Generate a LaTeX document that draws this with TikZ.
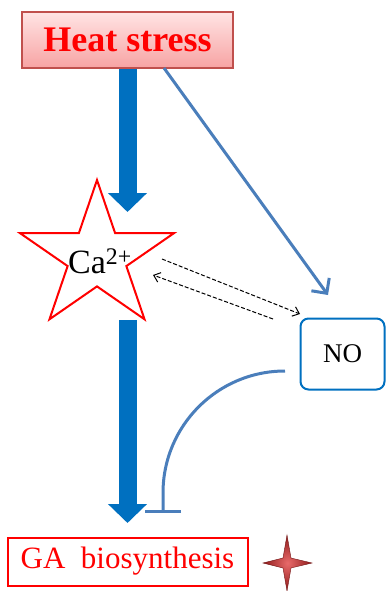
\documentclass[tikz,border=0pt]{standalone}
\usepackage{fontspec}
\setmainfont{Liberation Serif}
\usetikzlibrary{arrows.meta}
\definecolor{thickblue}{HTML}{0070C0}
\definecolor{thinblue}{HTML}{4A7EBB}
\definecolor{boxred}{HTML}{C0504D}
\definecolor{pinktop}{HTML}{FFE4E4}
\definecolor{pinkbot}{HTML}{F7A3A3}
\definecolor{sparkin}{HTML}{E86A6A}
\definecolor{sparkout}{HTML}{8E1A1A}
\begin{document}
\begin{tikzpicture}[x=1pt,y=-1pt,
  heatbox/.style={draw=boxred, line width=1.2pt, top color=pinktop, bottom color=pinkbot,
    minimum width=211pt, minimum height=56pt, inner sep=0pt,
    text=red, font=\fontsize{36}{40}\selectfont\bfseries},
  nobox/.style={draw=thickblue, line width=2pt, rounded corners=8pt, fill=white,
    minimum width=84pt, minimum height=71pt, inner sep=0pt, font=\fontsize{27}{30}\selectfont},
  gabox/.style={draw=red, line width=2pt, minimum width=240pt, minimum height=48pt, inner sep=0pt,
    text=red, font=\fontsize{31}{35}\selectfont},
  fatarrow/.style={thickblue, line width=18pt, -{Triangle[width=38pt,length=19pt]}},
  thinarrow/.style={thinblue, line width=3pt, -{Straight Barb[length=11pt,width=22pt]}},
  dasharrow/.style={black, line width=1pt, dash pattern=on 4pt off 2pt,
    -{Straight Barb[length=6pt,width=10pt]}},
  inhibit/.style={thinblue, line width=3pt, -{Bar[width=36pt]}}
]
\useasboundingbox (0,0) rectangle (388,591);

% nodes
\node[heatbox] (heat) at (127.5,40) {Heat stress};
\node[nobox] (no) at (342.5,354) {NO};
\node[gabox] (ga) at (127.5,561.5) {GA\ \ biosynthesis};

% star around Ca2+
\draw[red, line width=2pt, shift={(97,257)}, xscale=1.05]
  (270:77) -- (306:29.4) -- (342:77) -- (18:29.4) -- (54:77) -- (90:29.4)
  -- (126:77) -- (162:29.4) -- (198:77) -- (234:29.4) -- cycle;
\node[font=\fontsize{34}{38}\selectfont, inner sep=0pt] (ca) at (100,261) {Ca\textsuperscript{2+}};

% coordinates
\coordinate (a1end) at (127.5,212);
\coordinate (a2start) at (127.5,320);
\coordinate (t1) at (164,68);
\coordinate (t1end) at (328,295);
\coordinate (d1s) at (162,259);
\coordinate (d1e) at (300,314);
\coordinate (d2s) at (273,319);
\coordinate (d2e) at (153,275);
\coordinate (inhs) at (285,371);
\coordinate (inhe) at (163,513);
\coordinate (spark) at (287,563);

% connectors
\draw[fatarrow] (heat.south) -- (a1end);
\draw[fatarrow] (a2start) -- (ga.north |- 0,523);
\draw[thinarrow] (t1) -- (t1end);
\draw[dasharrow] (d1s) -- (d1e);
\draw[dasharrow] (d2s) -- (d2e);
\draw[inhibit] (inhs) arc[start angle=270, end angle=180, radius=122] -- (inhe);

% sparkle
\shade[inner color=sparkin, outer color=sparkout, draw=sparkout!80!black, line width=0.4pt]
  (spark) ++(0,-28) -- ++(4,23) -- ++(21,5) -- ++(-21,5) -- ++(-4,23)
  -- ++(-4,-23) -- ++(-20,-5) -- ++(20,-5) -- cycle;
\end{tikzpicture}
\end{document}
